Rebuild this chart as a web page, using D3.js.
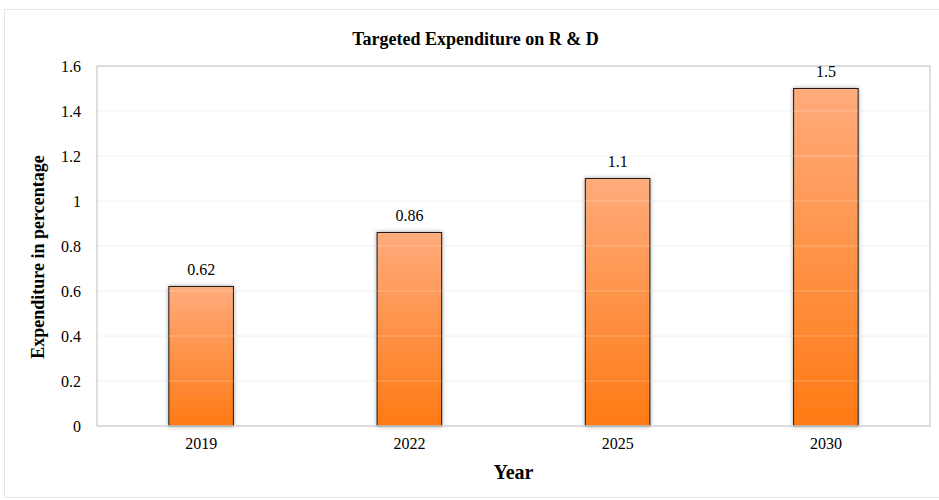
<!DOCTYPE html>
<meta charset="utf-8">
<script src="https://cdn.jsdelivr.net/npm/d3@7"></script>
<style>
    body { margin: 0; background: #fff; }
    text { font-family: "Liberation Serif", "Times New Roman", serif; fill: #000; }
    .title { font-size: 18px; font-weight: bold; }
    .label { font-weight: bold; }
    .tick text { font-size: 16px; font-family: "Liberation Serif", "Times New Roman", serif; }
    .val { font-size: 16px; }
</style>
<body>
<script>
    var years = ["2019", "2022", "2025", "2030"];
    var values = [0.62, 0.86, 1.1, 1.5];
    var yTicks = [0, 0.2, 0.4, 0.6, 0.8, 1, 1.2, 1.4, 1.6];

    var W = 939, H = 500;
    var margin = { top: 66, right: 9, bottom: 74, left: 97 },
        width = W - margin.left - margin.right,
        height = H - margin.top - margin.bottom;

    var root = d3.select("body").append("svg")
        .attr("width", W)
        .attr("height", H);

    // outer chart frame
    root.append("rect")
        .attr("x", 4.5).attr("y", 9.5)
        .attr("width", W - 4).attr("height", H - 12)
        .attr("fill", "none").attr("stroke", "#e6e6e6");

    var defs = root.append("defs");
    var grad = defs.append("linearGradient")
        .attr("id", "barGrad")
        .attr("x1", 0).attr("y1", 0).attr("x2", 0).attr("y2", 1);
    grad.append("stop").attr("offset", "0%").attr("stop-color", "#ffab7c");
    grad.append("stop").attr("offset", "100%").attr("stop-color", "#ff7a14");

    var shadow = defs.append("filter").attr("id", "shadow")
        .attr("x", "-20%").attr("y", "-5%").attr("width", "140%").attr("height", "110%");
    shadow.append("feDropShadow")
        .attr("dx", 0).attr("dy", 0).attr("stdDeviation", 2)
        .attr("flood-color", "#000").attr("flood-opacity", 0.35);

    var svg = root.append("g")
        .attr("transform", "translate(" + margin.left + "," + margin.top + ")");

    var x = d3.scaleBand()
        .domain(years)
        .range([0, width])
        .paddingInner(0.69)
        .paddingOuter(0.345);

    var y = d3.scaleLinear()
        .domain([0, 1.6])
        .range([height, 0]);

    // gridlines under bars
    svg.append("g")
        .selectAll("line")
        .data(yTicks.slice(1))
        .enter().append("line")
        .attr("x1", 0).attr("x2", width)
        .attr("y1", function (d) { return y(d); })
        .attr("y2", function (d) { return y(d); })
        .attr("stroke", "#f0f0f0");

    svg.selectAll(".bar")
        .data(values)
        .enter().append("rect")
        .attr("class", "bar")
        .attr("x", function (d, i) { return x(years[i]); })
        .attr("y", function (d) { return y(d); })
        .attr("width", x.bandwidth())
        .attr("height", function (d) { return height - y(d); })
        .attr("fill", "url(#barGrad)")
        .attr("stroke", "#1a1a1a")
        .attr("stroke-width", 1)
        .attr("filter", "url(#shadow)");

    // faint grid showing through bars
    svg.append("g")
        .selectAll("line")
        .data(yTicks.slice(1, -1))
        .enter().append("line")
        .attr("x1", 0).attr("x2", width)
        .attr("y1", function (d) { return y(d); })
        .attr("y2", function (d) { return y(d); })
        .attr("stroke", "#ffffff")
        .attr("stroke-opacity", 0.25);

    // plot frame
    svg.append("rect")
        .attr("x", 0).attr("y", 0)
        .attr("width", width).attr("height", height)
        .attr("fill", "none").attr("stroke", "#bfbfbf");

    svg.append("line")
        .attr("x1", 0).attr("x2", width)
        .attr("y1", height).attr("y2", height)
        .attr("stroke", "#d9d9d9");

    svg.selectAll(".val")
        .data(values)
        .enter().append("text")
        .attr("class", "val")
        .attr("x", function (d, i) { return x(years[i]) + x.bandwidth() / 2; })
        .attr("y", function (d) { return y(d) - 12; })
        .attr("text-anchor", "middle")
        .text(function (d) { return d; });

    var yAxis = svg.append("g")
        .call(d3.axisLeft(y).tickValues(yTicks).tickSize(0).tickPadding(16)
            .tickFormat(function (d) { return String(d); }));
    yAxis.select(".domain").remove();
    yAxis.selectAll("text").attr("dy", "0.35em");

    var xAxis = svg.append("g")
        .attr("transform", "translate(0," + height + ")")
        .call(d3.axisBottom(x).tickSize(0).tickPadding(12));
    xAxis.select(".domain").remove();

    svg.append("text")
        .attr("class", "title")
        .attr("x", width / 2 - 38)
        .attr("y", -21)
        .attr("text-anchor", "middle")
        .text("Targeted Expenditure on R & D");

    svg.append("text")
        .attr("class", "label")
        .attr("x", width / 2)
        .attr("y", height + 53)
        .attr("text-anchor", "middle")
        .style("font-size", "20px")
        .text("Year");

    svg.append("text")
        .attr("class", "label")
        .attr("transform", "rotate(-90)")
        .attr("x", -height / 2 - 11)
        .attr("y", -53)
        .attr("text-anchor", "middle")
        .style("font-size", "18px")
        .text("Expenditure in percentage");
</script>
</body>
